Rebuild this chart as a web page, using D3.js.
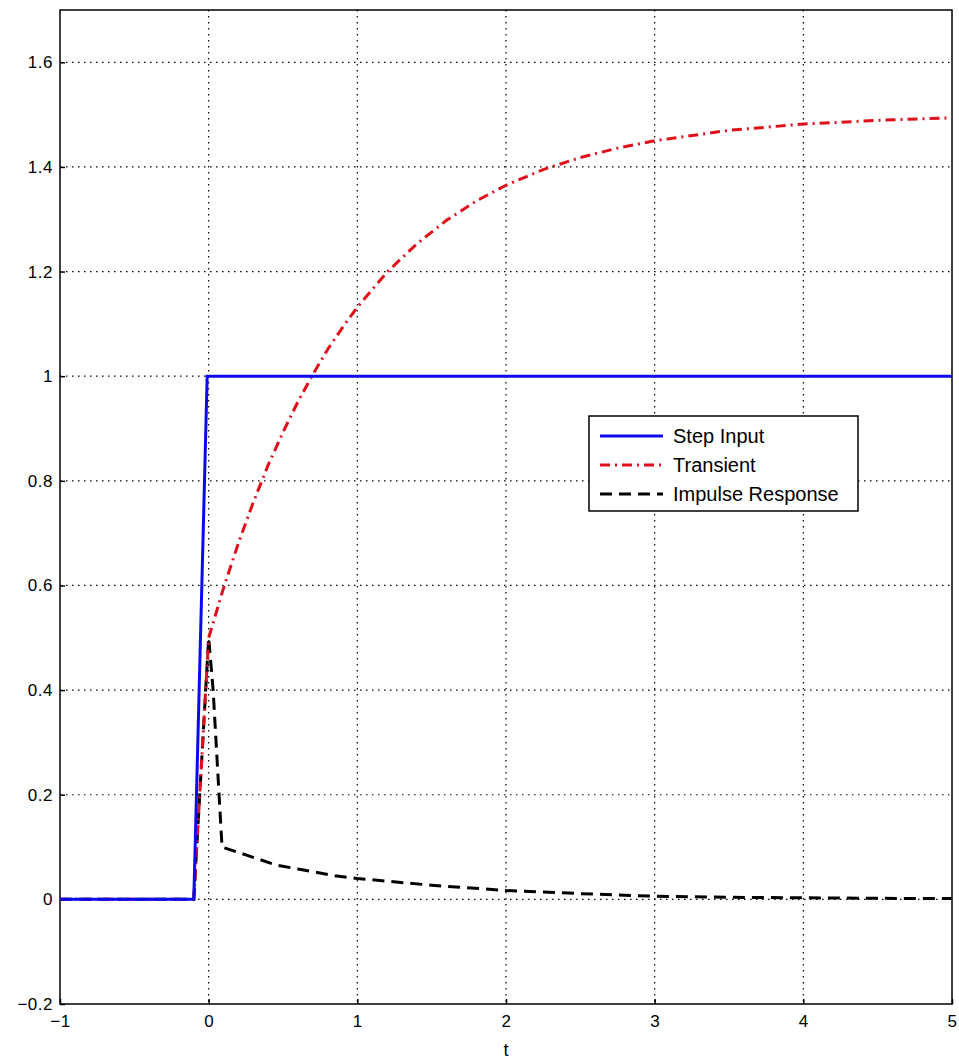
<!DOCTYPE html>
<html>
<head>
<meta charset="utf-8">
<script src="https://cdn.jsdelivr.net/npm/d3@7.9.0/dist/d3.min.js"></script>
<style>
  body { margin: 0; background: #fff; }
  svg { display: block; font-family: "Liberation Sans", Arial, sans-serif; }
</style>
</head>
<body>
<svg id="chart" width="959" height="1059"></svg>
<script>
// values
const xTicks = [-1, 0, 1, 2, 3, 4, 5];
const yTicks = [-0.2, 0, 0.2, 0.4, 0.6, 0.8, 1, 1.2, 1.4, 1.6];

const stepT = [-1, -0.1, -0.01, 5];
const stepY = [0, 0, 1, 1];

const transientT = [-1, -0.1, 0, 0.1, 0.2, 0.3, 0.4, 0.5, 0.6, 0.7, 0.8, 0.9, 1.0,
  1.2, 1.4, 1.6, 1.8, 2.0, 2.25, 2.5, 2.75, 3.0, 3.5, 4.0, 4.5, 5.0];
const transientY = [0, 0, 0.5, 0.595, 0.681, 0.759, 0.83, 0.893, 0.951, 1.003, 1.051, 1.093, 1.132,
  1.199, 1.253, 1.298, 1.335, 1.365, 1.395, 1.418, 1.436, 1.45, 1.47, 1.482, 1.489, 1.494];

const impulseT = [-1, -0.1, 0, 0.03, 0.06, 0.09, 0.25, 0.45, 0.62, 0.85, 1, 1.5, 2, 2.5, 3, 3.5, 4, 4.5, 5];
const impulseY = [0, 0, 0.5, 0.4, 0.25, 0.1, 0.085, 0.066, 0.057, 0.045, 0.04, 0.027, 0.017, 0.011, 0.006, 0.004, 0.003, 0.002, 0.0015];

const seriesNames = ["Step Input", "Transient", "Impulse Response"];
const seriesColors = ["#0a0af0", "#e0101a", "#000000"];
const seriesDash = [null, "10,5,2,5", "12,7"];

const svg = d3.select("#chart");
const width = +svg.attr("width"),
  height = +svg.attr("height");
const margin = { top: 10, right: 7, bottom: 55, left: 60 };

const x = d3.scaleLinear()
  .domain([-1, 5])
  .range([margin.left, width - margin.right]);

const y = d3.scaleLinear()
  .domain([-0.2, 1.7])
  .range([height - margin.bottom, margin.top]);

// grid
const grid = svg.append("g")
  .attr("stroke", "#000")
  .attr("stroke-width", 1.2)
  .attr("stroke-dasharray", "1.5,4.5");

grid.selectAll("line.gx")
  .data(xTicks.slice(1, -1))
  .join("line")
  .attr("class", "gx")
  .attr("x1", d => x(d)).attr("x2", d => x(d))
  .attr("y1", y(1.7)).attr("y2", y(-0.2));

grid.selectAll("line.gy")
  .data(yTicks.slice(1))
  .join("line")
  .attr("class", "gy")
  .attr("x1", x(-1)).attr("x2", x(5))
  .attr("y1", d => y(d)).attr("y2", d => y(d));

// axes
const fmt = d3.format("~g");

const xAxis = svg.append("g")
  .attr("transform", `translate(0,${y(-0.2)})`)
  .call(d3.axisBottom(x).tickValues(xTicks).tickFormat(fmt).tickSize(-5).tickPadding(11));

const yAxis = svg.append("g")
  .attr("transform", `translate(${x(-1)},0)`)
  .call(d3.axisLeft(y).tickValues(yTicks).tickFormat(fmt).tickSize(-5).tickPadding(7));

[xAxis, yAxis].forEach(a => {
  a.select(".domain").remove();
  a.selectAll("line").attr("stroke", "#000").attr("stroke-width", 1.5);
  a.selectAll("text")
    .style("font-size", "17px")
    .style("letter-spacing", "0.5px")
    .attr("fill", "#000");
});

svg.append("rect")
  .attr("x", x(-1))
  .attr("y", y(1.7))
  .attr("width", x(5) - x(-1))
  .attr("height", y(-0.2) - y(1.7))
  .attr("fill", "none")
  .attr("stroke", "#000")
  .attr("stroke-width", 1.5);

// lines
const line = d3.line().x(d => x(d[0])).y(d => y(d[1]));
const series = [
  d3.zip(stepT, stepY),
  d3.zip(transientT, transientY),
  d3.zip(impulseT, impulseY)
];

// draw step last so it sits on top like in the picture
[2, 1, 0].forEach(i => {
  svg.append("path")
    .datum(series[i])
    .attr("d", line)
    .attr("fill", "none")
    .attr("stroke", seriesColors[i])
    .attr("stroke-width", 3)
    .attr("stroke-dasharray", seriesDash[i]);
});

// x label
svg.append("text")
  .attr("x", (x(-1) + x(5)) / 2)
  .attr("y", 1056)
  .attr("text-anchor", "middle")
  .style("font-size", "18px")
  .text("t");

// legend
const legend = svg.append("g")
  .attr("transform", "translate(589,416)");

legend.append("rect")
  .attr("width", 269)
  .attr("height", 95)
  .attr("fill", "#fff")
  .attr("stroke", "#000")
  .attr("stroke-width", 1.5);

seriesNames.forEach((name, i) => {
  const ly = 20 + i * 29;
  legend.append("line")
    .attr("x1", 11).attr("x2", 74)
    .attr("y1", ly).attr("y2", ly)
    .attr("stroke", seriesColors[i])
    .attr("stroke-width", 3)
    .attr("stroke-dasharray", seriesDash[i]);

  legend.append("text")
    .attr("x", 84)
    .attr("y", ly + 7)
    .style("font-size", "20px")
    .text(name);
});
</script>
</body>
</html>
